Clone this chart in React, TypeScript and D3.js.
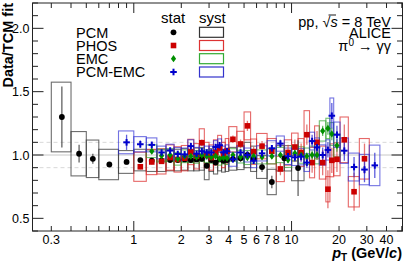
import React from "react";
import * as d3 from "d3";

// ---------------- data ----------------
const PCM_EDGES = [0.3,0.4,0.5,0.6,0.8,1.0,1.2,1.4,1.6,1.8,2.0,2.2,2.4,2.6,2.8,3.0,3.2,3.4,3.6,3.8,4.0,4.5,5.0,5.5,6.0,7.0,8.0,10,12];
const PCM_VAL = [1.30,1.01,0.97,0.925,0.945, 0.96,0.955,0.955,0.96,0.96, 0.965,0.96,0.965,0.97,0.915, 0.96,0.94,0.965,0.955,0.96, 0.97,0.975,1.0,0.97,0.905, 0.787,0.974,0.897];
const PCM_STAT = [0.24,0.07,0.04,0.02,0.02, 0.015,0.015,0.015,0.015,0.015, 0.015,0.015,0.015,0.02,0.02, 0.02,0.02,0.02,0.025,0.025, 0.025,0.03,0.03,0.035,0.04, 0.05,0.1,0.22];
const PCM_SYST = [0.275,0.175,0.148,0.12,0.09, 0.085,0.085,0.085,0.085,0.085, 0.085,0.085,0.09,0.09,0.11, 0.09,0.09,0.09,0.09,0.09, 0.09,0.09,0.1,0.1,0.09, 0.1,0.1,0.1];

const PHOS_EDGES = [1.0,1.2,1.4,1.6,1.8,2.0,2.2,2.4,2.6,2.8,3.0,3.2,3.4,3.6,3.8,4.0,4.5,5.0,5.5,6.0,7.0,8.0,9.0,10,11,12,13,14,15,16.5,17.5,18.5,20.3,22.9,26.9,31.1];
const PHOS_VAL = [0.907,0.945,0.95,0.98,0.965, 0.975,1.024,0.99,1.097,1.0, 0.98,1.02,1.055,1.0,1.03, 1.124,1.087,1.23,1.026, 1.07,1.03,0.89,1.02, 1.063,1.02,1.16,0.94, 1.10,0.94,0.73,0.958, 0.966,1.12,0.71,0.97];
const PHOS_STAT = [0.02,0.02,0.02,0.02,0.02, 0.02,0.02,0.025,0.025,0.025, 0.025,0.03,0.03,0.03,0.03, 0.03,0.035,0.04,0.04, 0.04,0.045,0.05,0.06, 0.06,0.07,0.08,0.08, 0.09,0.1,0.15,0.1, 0.1,0.12,0.15,0.12];
const PHOS_SYST = [0.115,0.1,0.1,0.1,0.1, 0.1,0.1,0.1,0.11,0.1, 0.1,0.1,0.1,0.1,0.1, 0.1,0.1,0.11,0.1, 0.1,0.1,0.1,0.1, 0.11,0.11,0.19,0.12, 0.13,0.13,0.1,0.13, 0.13,0.18,0.12,0.16];

const EMC_EDGES = [1.2,1.4,1.6,1.8,2.0,2.2,2.4,2.6,2.8,3.0,3.2,3.4,3.6,3.8,4.0,4.5,5.0,5.5,6.0,7.0,8.0,9.0,10,11,12,13,14,15,16.5,17.5,18.5,20.3];
const EMC_VAL = [1.03,0.995,1.0,0.97,0.99, 0.99,0.985,1.0,0.99,0.985, 0.99,0.97,0.98,0.975,1.0, 0.987,0.98,0.99,0.985, 0.99,1.0,0.962,1.013, 1.0,0.99,1.0,1.0, 1.19,1.21,1.166,1.075];
const EMC_STAT = [0.02,0.015,0.015,0.015,0.015, 0.015,0.015,0.015,0.015,0.015, 0.015,0.015,0.015,0.015,0.015, 0.015,0.015,0.02,0.02, 0.02,0.02,0.025,0.025, 0.03,0.03,0.035,0.04, 0.04,0.05,0.05,0.05];
const EMC_SYST = [0.05,0.05,0.05,0.05,0.05, 0.05,0.05,0.05,0.05,0.05, 0.05,0.05,0.05,0.05,0.05, 0.05,0.055,0.055,0.055, 0.06,0.06,0.06,0.06, 0.065,0.065,0.07,0.07, 0.08,0.08,0.09,0.09];

const PCMEMC_EDGES = [0.8,1.0,1.2,1.4,1.6,1.8,2.0,2.2,2.4,2.6,2.8,3.0,3.2,3.4,3.6,3.8,4.0,4.5,5.0,5.5,6.0,7.0,8.0,9.0,10,11,12,13,14,15,16.5,17.5,18.5,20.3,22.9,26.9,31.1,36.3];
const PCMEMC_VAL = [1.10,1.085,1.08,1.02,1.035, 1.008,1.005,1.07,1.01,1.03, 1.02,1.02,1.063,1.077,1.02, 1.03,0.966,1.02,1.0,0.955, 1.013,1.053,1.09,0.99, 0.982,0.987,0.94,1.11, 1.06,1.0,1.04,1.31,1.16, 1.034,0.905,0.885,0.918];
const PCMEMC_STAT = [0.06,0.03,0.02,0.02,0.02, 0.015,0.015,0.015,0.015,0.015, 0.015,0.015,0.015,0.015,0.015, 0.015,0.02,0.02,0.02,0.02, 0.025,0.025,0.03,0.03, 0.035,0.04,0.04,0.05, 0.05,0.06,0.06,0.1,0.07, 0.08,0.08,0.1,0.1];
const PCMEMC_SYST = [0.09,0.06,0.055,0.05,0.05, 0.05,0.05,0.05,0.05,0.05, 0.05,0.05,0.05,0.05,0.05, 0.05,0.055,0.055,0.055,0.055, 0.06,0.06,0.06,0.065, 0.065,0.065,0.07,0.07, 0.075,0.08,0.08,0.14,0.1, 0.1,0.11,0.12,0.16];

const X_TICK_LABELS = [0.3, 1, 2, 3, 4, 5, 6, 7, 8, 10, 20, 30, 40];
const Y_TICK_LABELS = [0.5, 1.0, 1.5, 2.0];
const LEGEND_NAMES = ["PCM", "PHOS", "EMC", "PCM-EMC"];

// ---------------- layout ----------------
const W = 407, H = 264;
const L = 32.5, R = 402.5, T = 3, B = 231;
const FONT = "'Liberation Sans', Arial, Helvetica, sans-serif";

const x = d3.scaleLog().domain([0.228, 50.5]).range([L, R]);
const y = d3.scaleLinear().domain([0.4, 2.2]).range([B, T]);

type Pt = { lo: number; hi: number; c: number; v: number; st: number; sy: number };
function build(edges: number[], val: number[], st: number[], sy: number[]): Pt[] {
  return val.map((v, i) => ({ lo: edges[i], hi: edges[i + 1], c: (edges[i] + edges[i + 1]) / 2, v, st: st[i], sy: sy[i] }));
}

const SERIES = [
  { name: "PCM", pts: build(PCM_EDGES, PCM_VAL, PCM_STAT, PCM_SYST), marker: "#000000", box: "rgba(60,60,60,0.75)", bar: "rgba(70,70,70,0.85)", shape: "circle" },
  { name: "PHOS", pts: build(PHOS_EDGES, PHOS_VAL, PHOS_STAT, PHOS_SYST), marker: "#cc0000", box: "rgba(220,40,40,0.7)", bar: "rgba(220,60,60,0.7)", shape: "square" },
  { name: "EMC", pts: build(EMC_EDGES, EMC_VAL, EMC_STAT, EMC_SYST), marker: "#008f00", box: "rgba(40,160,40,0.65)", bar: "rgba(40,160,40,0.7)", shape: "diamond" },
  { name: "PCM-EMC", pts: build(PCMEMC_EDGES, PCMEMC_VAL, PCMEMC_STAT, PCMEMC_SYST), marker: "#0000cc", box: "rgba(40,40,210,0.65)", bar: "rgba(40,40,210,0.75)", shape: "cross" },
];

function Marker({ shape, cx, cy, color }: { shape: string; cx: number; cy: number; color: string }) {
  if (shape === "circle") return <circle cx={cx} cy={cy} r={2.9} fill={color} />;
  if (shape === "square") return <rect x={cx - 2.8} y={cy - 2.8} width={5.6} height={5.6} fill={color} />;
  if (shape === "diamond") return <path d={`M${cx},${cy - 3.6}L${cx + 2.6},${cy}L${cx},${cy + 3.6}L${cx - 2.6},${cy}Z`} fill={color} />;
  return (
    <g stroke={color} strokeWidth={2}>
      <line x1={cx - 3.3} x2={cx + 3.3} y1={cy} y2={cy} />
      <line x1={cx} x2={cx} y1={cy - 3.3} y2={cy + 3.3} />
    </g>
  );
}

export default function App() {
  const xTicks: { v: number; len: number }[] = [];
  for (const dec of [0.1, 1, 10]) {
    for (let k = 1; k <= 9; k++) {
      const v = k * dec;
      if (v < 0.228 || v > 50.5) continue;
      xTicks.push({ v, len: k === 1 ? 10 : 5 });
    }
  }
  const yTicks: { v: number; len: number }[] = [];
  for (let i = 4; i <= 22; i++) {
    const v = i / 10;
    yTicks.push({ v, len: i % 5 === 0 ? 11 : 5.5 });
  }
  const legRows = [32.3, 45.5, 58.7, 72];

  return (
    <svg width={W} height={H} style={{ position: "absolute", left: 0, top: 0, background: "#fff" }} fontFamily={FONT}>
      <rect x={0} y={0} width={W} height={H} fill="#fff" />
      {/* reference lines */}
      <line x1={L} x2={R} y1={y(1)} y2={y(1)} stroke="#c8c8c8" strokeWidth={1} />
      <line x1={L} x2={R} y1={y(1.1)} y2={y(1.1)} stroke="#d8d8d8" strokeWidth={1} strokeDasharray="4,3" />
      <line x1={L} x2={R} y1={y(0.9)} y2={y(0.9)} stroke="#d8d8d8" strokeWidth={1} strokeDasharray="4,3" />

      {/* syst boxes */}
      {SERIES.map((s) => (
        <g key={s.name + "b"} fill="none" stroke={s.box} strokeWidth={1.1}>
          {s.pts.map((p, i) => (
            <rect key={i} x={x(p.lo)} y={y(p.v + p.sy)} width={x(p.hi) - x(p.lo)} height={y(p.v - p.sy) - y(p.v + p.sy)} />
          ))}
        </g>
      ))}
      {/* stat bars */}
      {SERIES.map((s) => (
        <g key={s.name + "s"} stroke={s.bar} strokeWidth={1.3}>
          {s.pts.map((p, i) => (
            <line key={i} x1={x(p.c)} x2={x(p.c)} y1={y(p.v + p.st)} y2={y(p.v - p.st)} />
          ))}
        </g>
      ))}
      {/* markers */}
      {SERIES.map((s) => (
        <g key={s.name + "m"}>
          {s.pts.map((p, i) => (
            <Marker key={i} shape={s.shape} cx={x(p.c)} cy={y(p.v)} color={s.marker} />
          ))}
        </g>
      ))}

      {/* frame */}
      <rect x={L} y={T} width={R - L} height={B - T} fill="none" stroke="#222" strokeWidth={1} />
      {xTicks.map((t, i) => (
        <g key={i} stroke="#222" strokeWidth={1}>
          <line x1={x(t.v)} x2={x(t.v)} y1={B} y2={B - t.len} />
          <line x1={x(t.v)} x2={x(t.v)} y1={T} y2={T + t.len} />
        </g>
      ))}
      {yTicks.map((t, i) => (
        <g key={i} stroke="#222" strokeWidth={1}>
          <line x1={L} x2={L + t.len} y1={y(t.v)} y2={y(t.v)} />
          <line x1={R} x2={R - t.len} y1={y(t.v)} y2={y(t.v)} />
        </g>
      ))}
      {X_TICK_LABELS.map((v) => (
        <text key={v} x={x(v)} y={244} fontSize={12.5} textAnchor="middle" fill="#000">{String(v)}</text>
      ))}
      {Y_TICK_LABELS.map((v) => (
        <text key={v} x={29.5} y={y(v) + 4.5} fontSize={12.5} textAnchor="end" fill="#000">{v.toFixed(1)}</text>
      ))}

      {/* axis titles */}
      <text transform="translate(12.5,3) rotate(-90)" textAnchor="end" fontSize={14.5} fontWeight="bold" fill="#000">Data/TCM fit</text>
      <text x={402} y={257.5} textAnchor="end" fontSize={14.5} fontWeight="bold" fill="#000">
        <tspan fontStyle="italic">p</tspan>
        <tspan fontSize={10} dy={3}>T</tspan>
        <tspan dy={-3}> (GeV/</tspan>
        <tspan fontStyle="italic">c</tspan>
        <tspan>)</tspan>
      </text>

      {/* legend */}
      <text x={161} y={23} fontSize={15} fill="#000">stat</text>
      <text x={199} y={23} fontSize={15} fill="#000">syst</text>
      {LEGEND_NAMES.map((n, i) => {
        const s = SERIES[i];
        const cy = legRows[i];
        return (
          <g key={n}>
            <text x={76} y={cy + 5.2} fontSize={14.5} fill="#000">{n}</text>
            <Marker shape={s.shape} cx={173.5} cy={cy} color={s.marker} />
            <rect x={199.5} y={cy - 5} width={24} height={10} fill="none" stroke={["#333", "#d33", "#3a3", "#33c"][i]} strokeWidth={1.2} />
          </g>
        );
      })}

      {/* top-right labels */}
      <text x={391} y={26.5} textAnchor="end" fontSize={14.5} fill="#000">pp, √<tspan fontStyle="italic">s</tspan> = 8 TeV</text>
      <line x1={328.5} x2={336} y1={15} y2={15} stroke="#000" strokeWidth={0.9} />
      <text x={391} y={38} textAnchor="end" fontSize={14.5} fill="#000">ALICE</text>
      <text x={391} y={50.5} textAnchor="end" fontSize={14.5} fill="#000">π<tspan fontSize={10} dy={-5}>0</tspan><tspan dy={5}> → γγ</tspan></text>
    </svg>
  );
}
